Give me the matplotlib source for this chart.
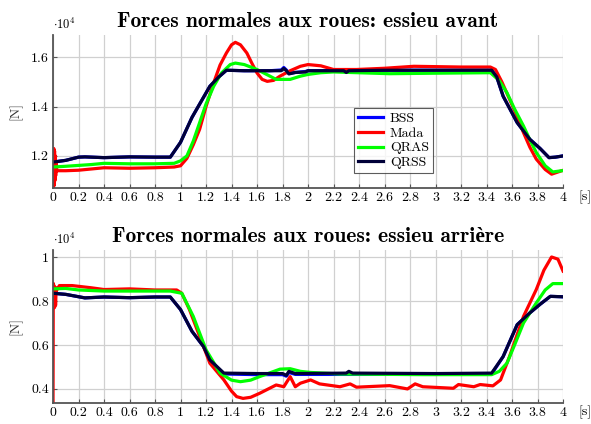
import matplotlib
matplotlib.use('Agg')
import matplotlib.pyplot as plt

plt.rcParams['font.family'] = ['cmr10', 'DejaVu Serif']
plt.rcParams['mathtext.fontset'] = 'cm'
plt.rcParams['axes.formatter.use_mathtext'] = True

# ---- data (units of 1e4 N) ----
# front axle
t_qrss_f = [0, 0.1, 0.2, 0.25, 0.4, 0.6, 0.8, 0.92, 1.0, 1.09, 1.15, 1.23, 1.3, 1.36, 1.5, 1.7, 1.79, 1.81, 1.83, 1.85, 1.9, 1.98, 2.0, 2.28, 2.3, 2.32, 2.6, 3.0, 3.44, 3.48, 3.53, 3.64, 3.74, 3.82, 3.89, 3.94, 4.0]
v_qrss_f = [1.175, 1.182, 1.195, 1.196, 1.193, 1.196, 1.195, 1.195, 1.255, 1.356, 1.41, 1.482, 1.52, 1.547, 1.545, 1.545, 1.545, 1.554, 1.545, 1.532, 1.538, 1.54, 1.545, 1.545, 1.538, 1.545, 1.547, 1.547, 1.547, 1.52, 1.442, 1.335, 1.267, 1.23, 1.193, 1.195, 1.2]
t_bss_f = [0, 0.1, 0.2, 0.25, 0.4, 0.6, 0.8, 0.92, 1.0, 1.09, 1.15, 1.23, 1.3, 1.36, 1.5, 1.7, 1.79, 1.81, 1.83, 1.85, 1.9, 1.98, 2.0, 2.6, 3.0, 3.44, 3.48, 3.53, 3.64, 3.74, 3.82, 3.89, 3.94, 4.0]
v_bss_f = [1.175, 1.182, 1.195, 1.196, 1.193, 1.196, 1.195, 1.195, 1.255, 1.356, 1.41, 1.482, 1.52, 1.547, 1.545, 1.545, 1.548, 1.558, 1.548, 1.534, 1.538, 1.542, 1.545, 1.547, 1.547, 1.547, 1.52, 1.442, 1.335, 1.267, 1.23, 1.193, 1.195, 1.2]
t_mada_f = [0, 0.003, 0.006, 0.009, 0.012, 0.015, 0.018, 0.021, 0.025, 0.03, 0.1, 0.2, 0.4, 0.6, 0.8, 0.95, 1.0, 1.05, 1.1, 1.15, 1.2, 1.26, 1.31, 1.36, 1.4, 1.43, 1.47, 1.52, 1.56, 1.6, 1.64, 1.68, 1.73, 1.78, 1.86, 1.94, 2.0, 2.1, 2.2, 2.38, 2.6, 2.83, 3.2, 3.43, 3.47, 3.52, 3.58, 3.64, 3.69, 3.74, 3.79, 3.86, 3.91, 3.99]
v_mada_f = [1.16, 1.07, 1.23, 1.08, 1.22, 1.10, 1.20, 1.12, 1.17, 1.14, 1.14, 1.142, 1.152, 1.15, 1.152, 1.155, 1.16, 1.19, 1.245, 1.308, 1.4, 1.496, 1.568, 1.617, 1.65, 1.66, 1.65, 1.617, 1.575, 1.536, 1.51, 1.502, 1.506, 1.523, 1.545, 1.563, 1.57, 1.565, 1.55, 1.55, 1.555, 1.563, 1.56, 1.56, 1.55, 1.5, 1.43, 1.36, 1.294, 1.235, 1.187, 1.145, 1.126, 1.14]
t_qras_f = [0, 0.1, 0.3, 0.4, 0.6, 0.8, 0.95, 1.0, 1.05, 1.1, 1.15, 1.2, 1.26, 1.32, 1.39, 1.43, 1.5, 1.6, 1.75, 1.86, 1.94, 2.0, 2.1, 2.2, 2.64, 3.0, 3.43, 3.5, 3.56, 3.62, 3.69, 3.74, 3.79, 3.86, 3.92, 3.99]
v_qras_f = [1.155, 1.158, 1.165, 1.17, 1.168, 1.168, 1.17, 1.18, 1.2, 1.26, 1.335, 1.41, 1.482, 1.535, 1.57, 1.576, 1.57, 1.55, 1.51, 1.51, 1.523, 1.53, 1.537, 1.54, 1.533, 1.535, 1.537, 1.505, 1.456, 1.39, 1.321, 1.265, 1.214, 1.16, 1.135, 1.14]

# rear axle
t_qrss_r = [0, 0.1, 0.25, 0.4, 0.6, 0.8, 0.92, 1.0, 1.09, 1.18, 1.23, 1.34, 1.6, 1.8, 1.83, 1.85, 1.9, 2.3, 2.32, 2.35, 3.0, 3.44, 3.53, 3.64, 3.74, 3.82, 3.9, 4.0]
v_qrss_r = [0.835, 0.83, 0.814, 0.818, 0.815, 0.818, 0.818, 0.761, 0.662, 0.593, 0.532, 0.472, 0.47, 0.47, 0.462, 0.48, 0.47, 0.472, 0.48, 0.472, 0.47, 0.472, 0.547, 0.692, 0.746, 0.785, 0.821, 0.819]
t_bss_r = [0, 0.1, 0.25, 0.4, 0.6, 0.8, 0.92, 1.0, 1.09, 1.18, 1.23, 1.34, 1.6, 1.8, 1.83, 1.85, 1.9, 3.0, 3.44, 3.53, 3.64, 3.74, 3.82, 3.9, 4.0]
v_bss_r = [0.835, 0.83, 0.814, 0.818, 0.815, 0.818, 0.818, 0.761, 0.662, 0.593, 0.532, 0.468, 0.465, 0.465, 0.458, 0.475, 0.466, 0.466, 0.468, 0.547, 0.692, 0.746, 0.785, 0.821, 0.819]
t_mada_r = [0, 0.002, 0.004, 0.008, 0.012, 0.016, 0.02, 0.025, 0.03, 0.05, 0.15, 0.3, 0.4, 0.6, 0.8, 0.92, 0.97, 1.01, 1.07, 1.15, 1.23, 1.34, 1.4, 1.44, 1.49, 1.55, 1.62, 1.75, 1.81, 1.86, 1.9, 1.94, 2.02, 2.09, 2.25, 2.33, 2.38, 2.64, 2.78, 2.84, 2.9, 3.14, 3.18, 3.3, 3.35, 3.45, 3.51, 3.58, 3.69, 3.79, 3.85, 3.91, 3.96, 4.0]
v_mada_r = [0.336, 0.88, 0.80, 0.87, 0.77, 0.86, 0.78, 0.86, 0.85, 0.87, 0.87, 0.86, 0.852, 0.855, 0.85, 0.85, 0.85, 0.835, 0.761, 0.639, 0.517, 0.441, 0.39, 0.365, 0.357, 0.362, 0.38, 0.418, 0.41, 0.456, 0.41, 0.426, 0.441, 0.423, 0.41, 0.423, 0.408, 0.415, 0.40, 0.423, 0.41, 0.403, 0.42, 0.41, 0.42, 0.414, 0.441, 0.547, 0.73, 0.852, 0.94, 1.0, 0.99, 0.936]
t_qras_r = [0, 0.1, 0.2, 0.4, 0.6, 0.8, 0.92, 1.01, 1.1, 1.2, 1.31, 1.4, 1.47, 1.55, 1.62, 1.78, 1.86, 1.94, 2.02, 2.25, 2.9, 3.44, 3.5, 3.56, 3.62, 3.69, 3.79, 3.86, 3.92, 4.0]
v_qras_r = [0.855, 0.857, 0.85, 0.845, 0.845, 0.845, 0.845, 0.835, 0.73, 0.578, 0.472, 0.44, 0.433, 0.44, 0.456, 0.49, 0.492, 0.48, 0.475, 0.468, 0.465, 0.465, 0.48, 0.517, 0.6, 0.7, 0.791, 0.85, 0.879, 0.879]

xticks = [0, 0.2, 0.4, 0.6, 0.8, 1, 1.2, 1.4, 1.6, 1.8, 2, 2.2, 2.4, 2.6, 2.8, 3, 3.2, 3.4, 3.6, 3.8, 4]
xtick_labels = ['0', '0.2', '0.4', '0.6', '0.8', '1', '1.2', '1.4', '1.6', '1.8', '2', '2.2', '2.4', '2.6', '2.8', '3', '3.2', '3.4', '3.6', '3.8', '4']
yticks_f = [1.2, 1.4, 1.6]
ytick_labels_f = ['1.2', '1.4', '1.6']
yticks_r = [0.4, 0.6, 0.8, 1]
ytick_labels_r = ['0.4', '0.6', '0.8', '1']

col_bss = (0, 0, 1)
col_mada = (1, 0, 0)
col_qras = (0, 1, 0)
col_qrss = (0, 0, 0.22)
lw = 2.3

fig = plt.figure(figsize=(5.91, 4.24), dpi=100)
ax1 = fig.add_axes([0.0897, 0.5566, 0.863, 0.361])
ax2 = fig.add_axes([0.0897, 0.0495, 0.863, 0.361])


def style(ax, title, yt, ytl, ylim):
    ax.set_xlim(0, 4)
    ax.set_ylim(*ylim)
    ax.set_xticks(xticks)
    ax.set_xticklabels(xtick_labels)
    ax.set_yticks(yt)
    ax.set_yticklabels(ytl)
    ax.grid(True, color='#d0d0d0', lw=0.9)
    ax.set_axisbelow(True)
    for s in ['top', 'right']:
        ax.spines[s].set_visible(False)
    for s in ['left', 'bottom']:
        ax.spines[s].set_color('#555555')
        ax.spines[s].set_linewidth(1.3)
    ax.tick_params(direction='in', length=3, color='#555555', labelsize=10, pad=3)
    ax.set_title(title, family=['cmb10', 'Liberation Serif'], fontweight='bold', fontsize=15.5, pad=6)
    ax.set_ylabel('[N]', fontsize=10, color='#333333', labelpad=6)
    ax.text(0.0, 1.02, r'$\cdot 10^4$', transform=ax.transAxes, fontsize=9, ha='left', va='bottom')
    ax.text(1.03, -0.06, '[s]', transform=ax.transAxes, fontsize=10, ha='left', va='center')


style(ax1, 'Forces normales aux roues: essieu avant', yticks_f, ytick_labels_f, (1.07, 1.69))
ax1.plot(t_bss_f, v_bss_f, color=col_bss, lw=lw, label='BSS')
ax1.plot(t_mada_f, v_mada_f, color=col_mada, lw=lw, label='Mada')
ax1.plot(t_qras_f, v_qras_f, color=col_qras, lw=lw, label='QRAS')
ax1.plot(t_qrss_f, v_qrss_f, color=col_qrss, lw=lw, label='QRSS')
leg = ax1.legend(loc='lower left', bbox_to_anchor=(0.59, 0.095), fontsize=10, frameon=True,
                 fancybox=False, edgecolor='#333333', handlelength=1.8, borderpad=0.3,
                 labelspacing=0.15, handletextpad=0.5, borderaxespad=0)
leg.get_frame().set_linewidth(0.8)

style(ax2, 'Forces normales aux roues: essieu arrière', yticks_r, ytick_labels_r, (0.336, 1.032))
ax2.plot(t_bss_r, v_bss_r, color=col_bss, lw=lw)
ax2.plot(t_mada_r, v_mada_r, color=col_mada, lw=lw)
ax2.plot(t_qras_r, v_qras_r, color=col_qras, lw=lw)
ax2.plot(t_qrss_r, v_qrss_r, color=col_qrss, lw=lw)

fig.savefig('out.png', dpi=100)
